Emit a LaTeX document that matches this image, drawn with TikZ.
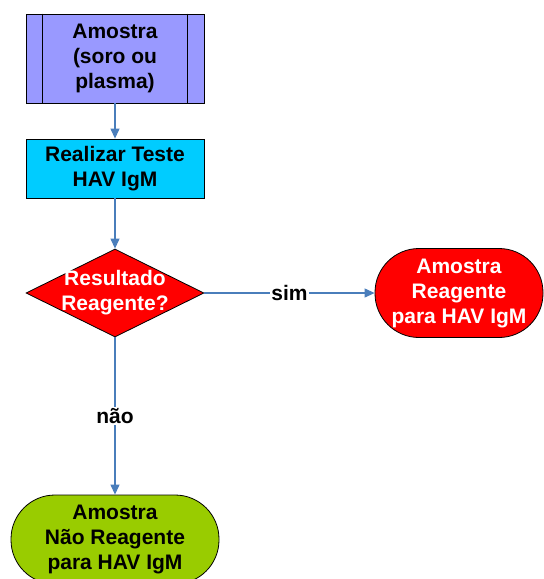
\documentclass[tikz,border=0pt]{standalone}
\usepackage{fontspec}
\setmainfont{Liberation Sans}
\usepackage{xcolor}
\usepackage{tikz}
\usetikzlibrary{positioning, shapes, arrows.meta}
\definecolor{amostracor}{HTML}{9999FF}
\definecolor{testecor}{HTML}{00CCFF}
\definecolor{reagcor}{HTML}{FF0000}
\definecolor{naoreagcor}{HTML}{99CC00}
\definecolor{setacor}{HTML}{4A7EBB}

\begin{document}
\begin{tikzpicture}[x=1pt, y=-1pt, ->, >={Triangle[length=10pt, width=9pt]}, line width=1.1pt]
		\tikzset{
		    txt/.style= {font=\fontsize{21}{25}\selectfont\bfseries, align=center},
		    caixa/.style= {rectangle, draw=black, line width=0.8pt, minimum width=178pt, txt},
		    decisao/.style= {diamond, draw=black, line width=0.8pt, fill=reagcor, minimum width=178pt, minimum height=88pt, inner sep=0pt},
		    fim/.style= {rectangle, rounded corners=44pt, draw=black, line width=0.8pt, minimum height=89pt, txt},
		    seta/.style= {draw=setacor, color=setacor},
		    rotulo/.style= {txt, fill=white, text=black, inner sep=1pt},
		}
		\useasboundingbox (0,0) rectangle (544,579);
		
		\node[caixa, fill=amostracor, minimum height=89pt] (s1) at (115,58.5) {Amostra\\(soro ou\\plasma)};
		\draw[-, line width=0.8pt] ([xshift=17pt]s1.north west) -- ([xshift=17pt]s1.south west);
		\draw[-, line width=0.8pt] ([xshift=-17pt]s1.north east) -- ([xshift=-17pt]s1.south east);
		\node[caixa, fill=testecor, minimum height=59pt] (s2) at (115,168.5) {Realizar Teste\\HAV IgM};
		\node[decisao] (s3) at (115,293) {};
		\node[txt, text=white] (s3t) at (s3) {Resultado\\Reagente?};
		\node[fim, fill=reagcor, text=white, minimum width=168pt] (s4) at (459,293) {Amostra\\Reagente\\para HAV IgM};
		\node[fim, fill=naoreagcor, minimum width=208pt] (s5) at (115,539.5) {Amostra\\Não Reagente\\para HAV IgM};
		
		\draw
		(s1) edge[seta] (s2)
		(s2) edge[seta] (s3)
		(s3) edge[seta] node[rotulo] (sim) {sim} (s4)
		(s3) edge[seta] node[rotulo] (nao) {não} (s5);
	\end{tikzpicture}
\end{document}
